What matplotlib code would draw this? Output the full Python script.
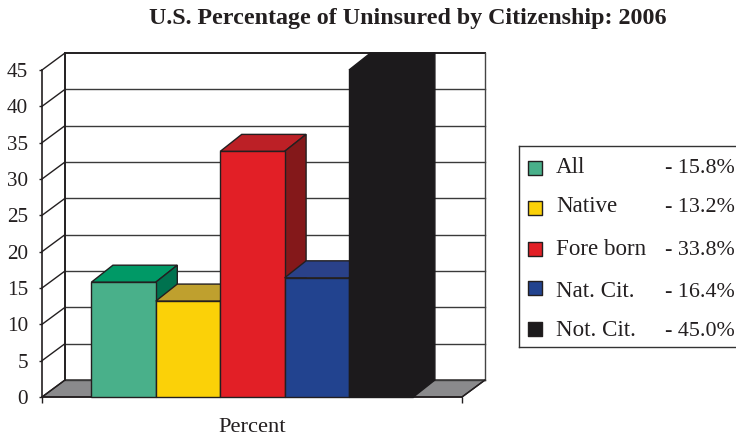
import matplotlib
matplotlib.use("Agg")
import matplotlib.pyplot as plt

plt.rcParams['font.family'] = ['Liberation Serif', 'DejaVu Serif']

categories = ["All", "Native", "Fore born", "Nat. Cit.", "Not. Cit."]
values = [15.8, 13.2, 33.8, 16.4, 45.0]
value_labels = ["- 15.8%", "- 13.2%", "- 33.8%", "- 16.4%", "- 45.0%"]
yticks = [0, 5, 10, 15, 20, 25, 30, 35, 40, 45]
title = "U.S. Percentage of Uninsured by Citizenship: 2006"
xlabel = "Percent"
front_colors = ["#49B08A", "#FBD108", "#E21F26", "#22438F", "#1C1A1C"]
top_colors = ["#009966", "#BFA02E", "#BC2026", "#2A4189", "#1C1A1C"]
side_colors = ["#00724F", "#9A8120", "#84181A", "#1B3470", "#1C1A1C"]

W, H = 736, 436
INK = "#231F20"
fig = plt.figure(figsize=(W / 100, H / 100), dpi=100)
ax = fig.add_axes([42 / W, 1 - 397 / H, 420 / W, 327 / H])

# one bar is 64.4 px wide
PX = 64.4
xmin = -0.5 - 49.4 / PX
xmax = xmin + 420 / PX
ax.set_xlim(xmin, xmax)
ax.set_ylim(0, 45)
DX = 23 / PX        # wall depth offset in x data units
BDX = 21.5 / PX     # bar depth offset
DY = 17 / (327 / 45)  # depth offset in y data units
LW = 1.0

# back wall and floor
ax.fill([xmin, xmin + DX, xmax + DX, xmax], [0, DY, DY, 0],
        facecolor="#8A8A8C", edgecolor=INK, lw=LW, clip_on=False, zorder=1)
for t in yticks:
    ax.plot([xmin, xmin + DX], [t, t + DY], color=INK, lw=LW, clip_on=False, zorder=2)
    ax.plot([xmin + DX, xmax + DX], [t + DY, t + DY], color="#3A3A3A" if t < 45 else INK,
            lw=LW if t < 45 else 1.4, clip_on=False, zorder=2)
ax.plot([xmin + DX, xmin + DX], [DY, 45 + DY], color=INK, lw=1.4, clip_on=False, zorder=2)
ax.plot([xmax + DX, xmax + DX], [DY, 45 + DY], color="#444444", lw=LW, clip_on=False, zorder=2)
ax.plot([xmax, xmax + DX], [0, DY], color=INK, lw=LW, clip_on=False, zorder=2)

# bars, painted left to right
for i, v in enumerate(values):
    z = 3 + i
    l, r = i - 0.5, i + 0.5
    ec = INK if i < 4 else front_colors[i]
    ax.fill([l, l + BDX, r + BDX, r], [v, v + DY, v + DY, v],
            facecolor=top_colors[i], edgecolor=ec, lw=LW, clip_on=False, zorder=z)
    ax.fill([r, r + BDX, r + BDX, r], [0, DY, v + DY, v],
            facecolor=side_colors[i], edgecolor=ec, lw=LW, clip_on=False, zorder=z)
    ax.bar(i, v, width=1.0, color=front_colors[i], edgecolor=ec, lw=LW, clip_on=False, zorder=z)

for s in ("top", "right"):
    ax.spines[s].set_visible(False)
for s in ("left", "bottom"):
    ax.spines[s].set_color(INK)
    ax.spines[s].set_linewidth(1.2)
    ax.spines[s].set_zorder(2.5)
ax.set_yticks(yticks)
ax.set_yticklabels([str(t) for t in yticks], fontsize=15.2, color=INK)
ax.set_xticks([xmin, xmax])
ax.set_xticklabels([])
ax.tick_params(axis="y", length=2, width=1, color=INK, pad=8)
ax.tick_params(axis="x", length=4, width=1, color=INK)
ax.set_xlabel(xlabel, fontsize=16.2, color=INK, labelpad=7.5)

fig.text(408 / W, 1 - 18.5 / H, title, ha="center", va="center",
         fontsize=17.3, fontweight="bold", color=INK)

# legend box (runs off the right edge of the picture)
lg = fig.add_axes([519 / W, 1 - 347 / H, 225 / W, 201 / H])
lg.set_xlim(519, 744)
lg.set_ylim(347, 146)
lg.set_xticks([])
lg.set_yticks([])
for s in lg.spines.values():
    s.set_color("#333333")
    s.set_linewidth(1.0)
rows = [168, 208, 249, 288, 329]
text_rows = [172.7, 212, 255, 296.7, 335.7]
for c, lab, val, y, ty in zip(front_colors, categories, value_labels, rows, text_rows):
    lg.scatter([535], [y], marker="s", s=92, color=c, edgecolors=INK, linewidths=1.0)
    lg.text(556, ty, lab, ha="left", va="baseline", fontsize=16.6, color=INK)
    lg.text(735, ty, val, ha="right", va="baseline", fontsize=15.8, color=INK)

fig.savefig("out.png", dpi=100)
